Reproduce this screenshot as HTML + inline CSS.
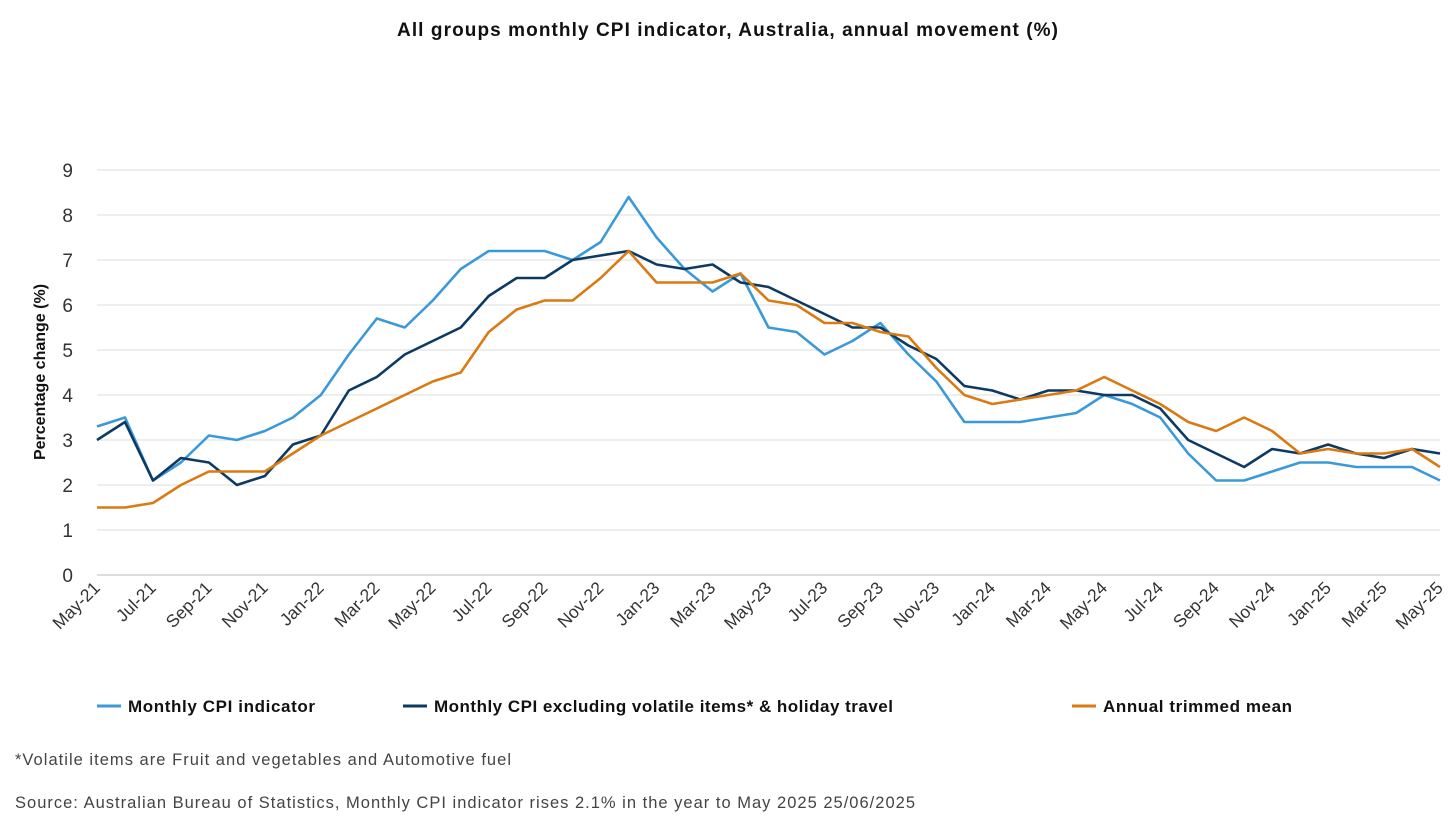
<!DOCTYPE html>
<html><head><meta charset="utf-8"><style>
body{margin:0;background:#fff;font-family:"Liberation Sans",sans-serif;}
svg{display:block}
</style></head><body>
<svg id="chart" width="1456" height="838">
<text x="397" y="36" textLength="661" lengthAdjust="spacing" font-size="19" font-weight="bold" fill="#111">All groups monthly CPI indicator, Australia, annual movement (%)</text>
<text transform="translate(45,372) rotate(-90)" text-anchor="middle" font-size="16" font-weight="bold" fill="#111">Percentage change (%)</text>
<g id="grid"></g><g id="yticks"></g><g id="xticks"></g><g id="lines"></g>
<g>
<g><line x1="97" y1="706" x2="121" y2="706" stroke="#3a9ad9" stroke-width="3"/><text x="128" y="712" textLength="187" lengthAdjust="spacing" font-size="17" font-weight="bold" fill="#111">Monthly CPI indicator</text></g>
<g><line x1="403" y1="706" x2="427" y2="706" stroke="#0d3a63" stroke-width="3"/><text x="434" y="712" textLength="459" lengthAdjust="spacing" font-size="17" font-weight="bold" fill="#111">Monthly CPI excluding volatile items* &amp; holiday travel</text></g>
<g><line x1="1072" y1="706" x2="1096" y2="706" stroke="#d97a12" stroke-width="3"/><text x="1103" y="712" textLength="189" lengthAdjust="spacing" font-size="17" font-weight="bold" fill="#111">Annual trimmed mean</text></g>
</g>
<text x="15" y="765" textLength="496" lengthAdjust="spacing" font-size="16.5" fill="#444">*Volatile items are Fruit and vegetables and Automotive fuel</text>
<text x="15" y="808" textLength="900" lengthAdjust="spacing" font-size="16.5" fill="#444">Source: Australian Bureau of Statistics, Monthly CPI indicator rises 2.1% in the year to May 2025 25/06/2025</text>
</svg>
<script>
const months = ["May-21","Jun-21","Jul-21","Aug-21","Sep-21","Oct-21","Nov-21","Dec-21","Jan-22","Feb-22","Mar-22","Apr-22","May-22","Jun-22","Jul-22","Aug-22","Sep-22","Oct-22","Nov-22","Dec-22","Jan-23","Feb-23","Mar-23","Apr-23","May-23","Jun-23","Jul-23","Aug-23","Sep-23","Oct-23","Nov-23","Dec-23","Jan-24","Feb-24","Mar-24","Apr-24","May-24","Jun-24","Jul-24","Aug-24","Sep-24","Oct-24","Nov-24","Dec-24","Jan-25","Feb-25","Mar-25","Apr-25","May-25"];
const cpi = [3.3,3.5,2.1,2.5,3.1,3.0,3.2,3.5,4.0,4.9,5.7,5.5,6.1,6.8,7.2,7.2,7.2,7.0,7.4,8.4,7.5,6.8,6.3,6.7,5.5,5.4,4.9,5.2,5.6,4.9,4.3,3.4,3.4,3.4,3.5,3.6,4.0,3.8,3.5,2.7,2.1,2.1,2.3,2.5,2.5,2.4,2.4,2.4,2.1];
const exclVolatile = [3.0,3.4,2.1,2.6,2.5,2.0,2.2,2.9,3.1,4.1,4.4,4.9,5.2,5.5,6.2,6.6,6.6,7.0,7.1,7.2,6.9,6.8,6.9,6.5,6.4,6.1,5.8,5.5,5.5,5.1,4.8,4.2,4.1,3.9,4.1,4.1,4.0,4.0,3.7,3.0,2.7,2.4,2.8,2.7,2.9,2.7,2.6,2.8,2.7];
const trimmedMean = [1.5,1.5,1.6,2.0,2.3,2.3,2.3,2.7,3.1,3.4,3.7,4.0,4.3,4.5,5.4,5.9,6.1,6.1,6.6,7.2,6.5,6.5,6.5,6.7,6.1,6.0,5.6,5.6,5.4,5.3,4.6,4.0,3.8,3.9,4.0,4.1,4.4,4.1,3.8,3.4,3.2,3.5,3.2,2.7,2.8,2.7,2.7,2.8,2.4];
const yTicks = [0,1,2,3,4,5,6,7,8,9];

const NS="http://www.w3.org/2000/svg";
const x0=97,x1=1440,yBase=575,yTop=170,yMax=9;
function xs(i){return x0+(x1-x0)*i/(months.length-1);}
function ys(v){return yBase-(yBase-yTop)*v/yMax;}
function mk(t,a,p){const e=document.createElementNS(NS,t);for(const k in a)e.setAttribute(k,a[k]);p.appendChild(e);return e;}
const grid=document.getElementById('grid'),yt=document.getElementById('yticks'),xt=document.getElementById('xticks'),ln=document.getElementById('lines');
yTicks.forEach(v=>{
  const g=mk('line',{x1:x0,x2:x1,y1:ys(v),y2:ys(v),stroke:v===0?'#bbb':'#dcdcdc','stroke-width':1},grid);
  
  
  const t=mk('text',{x:73,y:ys(v)+7,'text-anchor':'end','font-size':19,fill:'#333'},yt);
  t.textContent=v;
  
  
});
months.forEach((m,i)=>{
  if(i%2)return;
  const t=mk('text',{transform:`translate(${xs(i)+4},${yBase+14}) rotate(-45)`,'text-anchor':'end','font-size':17.5,fill:'#333'},xt);
  t.textContent=m;
  
  
});
[[cpi,'#3a9ad9','line-monthly-cpi'],[exclVolatile,'#0d3a63','line-excl-volatile'],[trimmedMean,'#d97a12','line-trimmed-mean']].forEach(([d,c,n])=>{
  const p=mk('polyline',{points:d.map((v,i)=>xs(i)+','+ys(v)).join(' '),fill:'none',stroke:c,'stroke-width':2.6,'stroke-linejoin':'round'},ln);
  
  
});
</script>
</body></html>
